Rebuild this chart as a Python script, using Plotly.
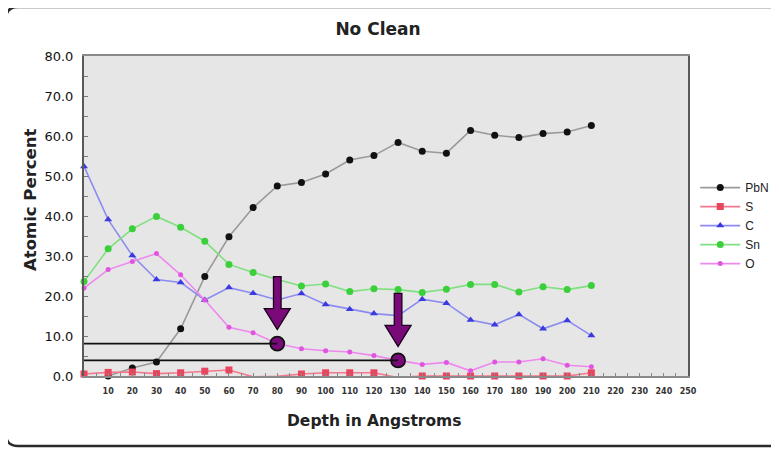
import plotly.graph_objects as go

depth = [0, 10, 20, 30, 40, 50, 60, 70, 80, 90, 100, 110, 120, 130, 140, 150, 160, 170, 180, 190, 200, 210]
pbn_x = depth[1:]
pbn = [0.0, 2.0, 3.5, 11.8, 24.9, 34.8, 42.1, 47.5, 48.4, 50.5, 54.0, 55.1, 58.4, 56.2, 55.7, 61.4, 60.2, 59.6, 60.6, 61.0, 62.6]
s = [0.5, 0.9, 1.0, 0.6, 0.8, 1.2, 1.5, -0.2, -0.1, 0.5, 0.8, 0.8, 0.8, -0.4, 0.0, 0.0, 0.0, 0.0, 0.0, 0.0, 0.0, 0.8]
c = [52.4, 39.1, 30.1, 24.1, 23.4, 19.0, 22.1, 20.7, 19.0, 20.6, 17.9, 16.7, 15.6, 15.1, 19.2, 18.2, 14.0, 12.8, 15.4, 11.8, 13.9, 10.1]
sn = [23.6, 31.8, 36.8, 39.9, 37.2, 33.7, 27.9, 25.9, 24.1, 22.5, 23.0, 21.1, 21.8, 21.6, 20.9, 21.7, 22.9, 22.9, 21.0, 22.3, 21.6, 22.6]
o = [22.0, 26.6, 28.6, 30.6, 25.3, 19.0, 12.2, 10.8, 8.1, 6.8, 6.3, 6.0, 5.1, 3.9, 2.9, 3.4, 1.3, 3.5, 3.5, 4.3, 2.7, 2.3]

highlight_depths = [80, 130]
x_ticks = list(range(10, 260, 10))
y_ticks = list(range(0, 90, 10))
y_tick_labels = [f"{v:.1f}" for v in y_ticks]

W, H = 779, 449
OFF = 8  # page body margin in the browser
# target plot area on screen: x 84..688, y 56..376
PL, PR, PT, PB = 84 - OFF, 688 - OFF, 56 - OFF, 376 - OFF
L, R, T, B = PL, W - PR, PT, H - PB
PW, PH = PR - PL, PB - PT

fig = go.Figure()

series = [
    ("PbN", pbn_x, pbn, "#9a9a9a", "#111111", "circle", 7),
    ("S", depth, s, "#f2788f", "#e8455f", "square", 7),
    ("C", depth, c, "#8c8cf0", "#3a3ae0", "triangle-up", 7),
    ("Sn", depth, sn, "#7fe07f", "#3ccf3c", "circle", 7),
    ("O", depth, o, "#ee88ee", "#e055e0", "circle", 5),
]
for name, xs, ys, lc, mc, sym, ms in series:
    fig.add_trace(go.Scatter(
        x=xs, y=ys, name=name, mode="lines+markers",
        line=dict(color=lc, width=1.6),
        marker=dict(color=mc, symbol=sym, size=ms),
        cliponaxis=False,
    ))

hl_y = [o[depth.index(d)] for d in highlight_depths]

for d, yv in zip(highlight_depths, hl_y):
    fig.add_shape(type="line", xref="x", yref="y", x0=0, x1=d, y0=yv, y1=yv,
                  line=dict(color="#111111", width=1.6), layer="above")
    fig.add_shape(type="path", xref="x", yref="y",
                  xsizemode="pixel", ysizemode="pixel", xanchor=d, yanchor=yv,
                  path="M -3.8 67 L 3.8 67 L 3.8 35 L 13 35 L 0 14 L -13 35 L -3.8 35 Z",
                  fillcolor="#7a0a7a", line=dict(color="#1a001a", width=1.3), layer="above")

fig.add_trace(go.Scatter(
    x=highlight_depths, y=hl_y, mode="markers", showlegend=False,
    marker=dict(size=14, color="#7a0a7a", line=dict(color="#111111", width=1.8)),
    cliponaxis=False,
))

# outer rounded frame (pixel offsets from the plot's bottom-left corner)
fig.add_shape(type="path", xref="paper", yref="paper",
              xsizemode="pixel", ysizemode="pixel", xanchor=0, yanchor=0,
              path="M -78 -58 L -78 357 Q -78 369 -66 369 L 720 369 M -78 -58 Q -78 -70 -66 -70 L 720 -70",
              line=dict(color="#2a2a2a", width=2.5), layer="below")

fig.update_layout(
    width=W, height=H,
    margin=dict(l=L, r=R, t=T, b=B),
    paper_bgcolor="white",
    plot_bgcolor="#e6e6e6",
    title=dict(text="<b>No Clean</b>", x=(378 - OFF) / W, xanchor="center",
               y=1 - (29 - OFF) / H, yanchor="middle",
               font=dict(family="DejaVu Sans", size=17, color="#222222")),
    font=dict(family="DejaVu Sans", color="#111111"),
    showlegend=True,
    legend=dict(x=1.012, xanchor="left", y=0.47, yanchor="middle",
                font=dict(family="Liberation Sans", size=12, color="#222222"),
                bgcolor="rgba(0,0,0,0)", itemwidth=40, tracegroupgap=0),
    xaxis=dict(range=[0, 250], tickvals=x_ticks, ticktext=[f"<b>{v}</b>" for v in x_ticks],
               showgrid=False, zeroline=False, showline=True, linecolor="#8a8a8a", linewidth=2,
               mirror=True, ticks="inside", ticklen=3, tickcolor="#888888",
               minor=dict(dtick=5, ticks="inside", ticklen=3, tickcolor="#888888"),
               tickfont=dict(family="DejaVu Sans", size=8, color="#333333"),
               ticklabelstandoff=6),
    yaxis=dict(range=[0, 80], tickvals=y_ticks, ticktext=y_tick_labels,
               showgrid=False, zeroline=False, showline=True, linecolor="#5a5a5a", linewidth=2,
               mirror=True, ticks="inside", ticklen=4, tickcolor="#777777",
               minor=dict(dtick=5, ticks="inside", ticklen=4, tickcolor="#777777"),
               tickfont=dict(family="DejaVu Sans", size=13, color="#111111"),
               ticklabelstandoff=6),
    annotations=[
        dict(text="<b>Atomic Percent</b>", xref="paper", yref="paper",
             x=(30 - 84) / PW, y=(376 - 200) / PH, textangle=-90,
             showarrow=False, xanchor="center", yanchor="middle",
             font=dict(family="DejaVu Sans", size=16.5, color="#222222")),
        dict(text="<b>Depth in Angstroms</b>", xref="paper", yref="paper",
             x=(374 - 84) / PW, y=(376 - 421) / PH,
             showarrow=False, xanchor="center", yanchor="middle",
             font=dict(family="DejaVu Sans", size=15.5, color="#222222")),
    ],
)

fig.write_html("out.html")
